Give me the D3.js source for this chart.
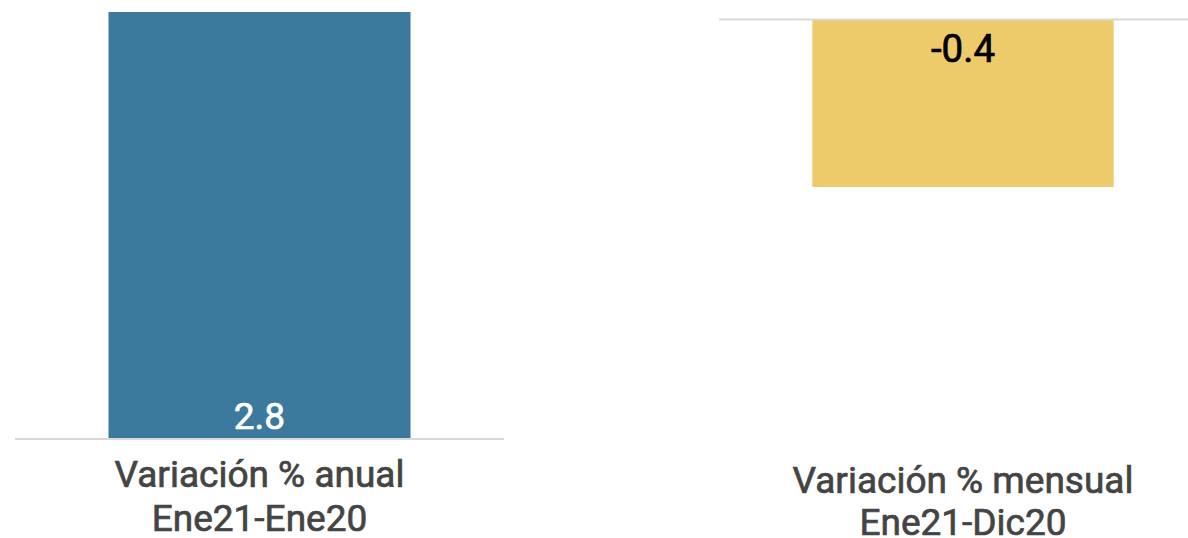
<!DOCTYPE html>
<html><head><meta charset="utf-8">
<script src="https://cdn.jsdelivr.net/npm/d3@7"></script>
<style>html,body{margin:0;padding:0;background:#fff;}svg{display:block;}</style>
</head><body>
<svg id="chart" width="1188" height="538"></svg>
<script>
// Data
const categories = ["Variación % anual|Ene21-Ene20", "Variación % mensual|Ene21-Dic20"];
const values = [2.8, -0.4];
const colors = ["#3b7a9c", "#eecb6a"];
const labelColors = ["#ffffff", "#000000"];

const svg = d3.select("#chart");

// Panel layouts
const panels = [
  { x0: 15, x1: 504, yTop: 12, yZero: 439, domain: [0, 2.8], labelY: 487, lineGap: 44, valueFont: 37 },
  { x0: 719, x1: 1207, yTop: 187, yZero: 19.5, domain: [0, -0.4], labelY: 493, lineGap: 42, valueFont: 38.5 }
];

const fmt = v => d3.format(".1f")(v).replace("\u2212", "-");

panels.forEach((p, i) => {
  const g = svg.append("g");
  const x = d3.scaleBand().domain([categories[i]]).range([p.x0, p.x1]).paddingInner(0.2364).paddingOuter(0.2364);
  const y = d3.scaleLinear().domain(p.domain).range([p.yZero, p.yTop]);
  const v = values[i];
  const c = categories[i];

  g.append("rect")
    .attr("x", x(c))
    .attr("width", x.bandwidth())
    .attr("y", Math.min(y(0), y(v)))
    .attr("height", Math.abs(y(v) - y(0)))
    .attr("fill", colors[i]);

  g.append("line")
    .attr("x1", p.x0).attr("x2", p.x1)
    .attr("y1", y(0)).attr("y2", y(0))
    .attr("stroke", "#d9d9d9").attr("stroke-width", 2);

  const cx = x(c) + x.bandwidth() / 2;
  // value label
  g.append("text")
    .attr("x", cx)
    .attr("y", v >= 0 ? y(0) - 10 : y(0) + 42)
    .attr("text-anchor", "middle")
    .attr("font-family", "Roboto, sans-serif")
    .attr("font-weight", 400)
    .attr("font-size", p.valueFont)
    .attr("fill", labelColors[i])
    .attr("stroke", labelColors[i])
    .attr("stroke-width", 0.7)
    .text(fmt(v));

  // category label
  const lines = c.split("|");
  const t = g.append("text")
    .attr("text-anchor", "middle")
    .attr("font-family", "Roboto, sans-serif")
    .attr("font-weight", 400)
    .attr("font-size", 37)
    .attr("fill", "#444444")
    .attr("stroke", "#444444")
    .attr("stroke-width", 0.7);
  lines.forEach((ln, k) => {
    t.append("tspan").attr("x", cx).attr("y", p.labelY + k * p.lineGap).text(ln);
  });
});
</script>
</body></html>
